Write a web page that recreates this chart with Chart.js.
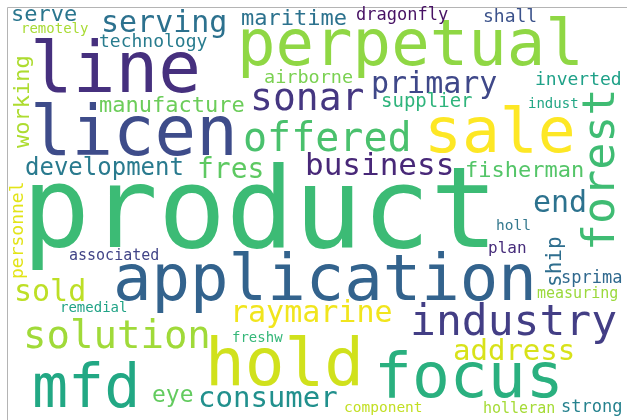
<!DOCTYPE html>
<html><head><meta charset="utf-8">
<script src="https://cdn.jsdelivr.net/npm/chart.js@4.4.0/dist/chart.umd.min.js"></script>
<style>html,body{margin:0;padding:0;background:#fff;}#wrap{width:627px;height:420px;}</style>
</head><body><div id="wrap"><canvas id="c" width="627" height="420"></canvas></div>
<script>
// Words and their weights (rendered font size in px)
const words = ["product","line","licen","perpetual","sale","application","hold","focus","mfd","industry",
  "offered","sonar","solution","forest","primary","serving","business","raymarine","address","consumer",
  "end","fres","sold","development","manufacture","maritime","fisherman","eye","serve","technology",
  "working","personnel","airborne","supplier","inverted","dragonfly","shall","remotely","associated","remedial",
  "freshw","component","holleran","strong","measuring","sprima","ship","plan","holl","indust"];
const weights = [113,71,69,64,63,64,66,63,60,43,
  40,38,39,45,30,30,31,30,29,29,
  30,28,30,24,22,22,22,23,22,18,
  22,18,18.5,19,18,17,18,14,15,14,
  14,14.5,15,17,15,17,21,16,14.5,14];
// Layout of the cloud (ink-left x, baseline y; vertical words: baseline x, start y)
const layoutX = [32,35,35,242,430,117,211,380,35,413,
  245,253,27,614,373,104,307,235,454,200,
  534,199,17,26,100,242,467,153,13,100,
  29,23,265,382,536,357,484,23,69,62,
  233,345,484,562,537,562,561,489,497,529];
const layoutY = [247,92,155,65,152,300,385,397,407,335,
  151,110,348,247,93,32,175,322,360,407,
  212,178,301,175,112,25,177,402,21,47,
  148,278,83,107,85,20,22,33,260,312,
  342,412,413,412,298,283,285,253,230,108];
const vertical = ["forest","working","personnel","ship"];
const colors = ["#3cbb75","#46307e","#3e4c8a","#8fd744","#fde725","#33638d","#d0e11c","#2ab07f","#22a884","#433e85",
  "#4ac16d","#453781","#a0da39","#3fbc73","#3f4889","#2c718e","#482878","#f1e51d","#d8e219","#21908d",
  "#2c728e","#5ec962","#bddf26","#297a8e","#6ccd5a","#2c728e","#54c568","#63cb5f","#2a768e","#287c8e",
  "#addc30","#e2e418","#7ad151","#2fb47c","#1fa188","#471164","#3b528b","#a8db34","#414487","#20a386",
  "#35b779","#c2df23","#a5db36","#26828e","#9bd93c","#30698e","#2e6e8e","#472d7b","#35798e","#22a785"];
const FONT = '"DejaVu Sans Mono", "Liberation Mono", monospace';

const framePlugin = {
  id: 'frame',
  beforeDatasetsDraw(chart) {
    const {ctx, scales} = chart;
    const x0 = Math.round(scales.x.getPixelForValue(7)) + 0.5;
    const y0 = Math.round(scales.y.getPixelForValue(7)) + 0.5;
    ctx.save();
    ctx.strokeStyle = '#b4b4b4';
    ctx.lineWidth = 1;
    ctx.beginPath();
    ctx.moveTo(x0, chart.height);
    ctx.lineTo(x0, y0);
    ctx.lineTo(chart.width, y0);
    ctx.stroke();
    ctx.restore();
  }
};

const wordPlugin = {
  id: 'words',
  afterDatasetsDraw(chart) {
    const ctx = chart.ctx;
    const meta = chart.getDatasetMeta(0);
    meta.data.forEach((pt, i) => {
      const w = words[i];
      ctx.save();
      ctx.font = weights[i] + 'px ' + FONT;
      ctx.fillStyle = colors[i];
      ctx.textAlign = 'left';
      ctx.textBaseline = 'alphabetic';
      const m = ctx.measureText(w);
      if (vertical.includes(w)) {
        ctx.translate(pt.x, pt.y);
        ctx.rotate(-Math.PI / 2);
        ctx.fillText(w, m.actualBoundingBoxLeft, 0);
      } else {
        ctx.fillText(w, pt.x + m.actualBoundingBoxLeft, pt.y);
      }
      ctx.restore();
    });
  }
};

new Chart(document.getElementById('c'), {
  type: 'scatter',
  data: {
    labels: words,
    datasets: [{
      data: words.map((w, i) => ({x: layoutX[i], y: layoutY[i], v: weights[i]})),
      pointRadius: 0, pointHoverRadius: 0
    }]
  },
  options: {
    responsive: false, animation: false, devicePixelRatio: 1,
    layout: {padding: 0},
    scales: {
      x: {type: 'linear', min: 0, max: 627, display: false},
      y: {type: 'linear', min: 0, max: 420, reverse: true, display: false}
    },
    plugins: {legend: {display: false}, tooltip: {enabled: false}}
  },
  plugins: [framePlugin, wordPlugin]
});
</script></body></html>
